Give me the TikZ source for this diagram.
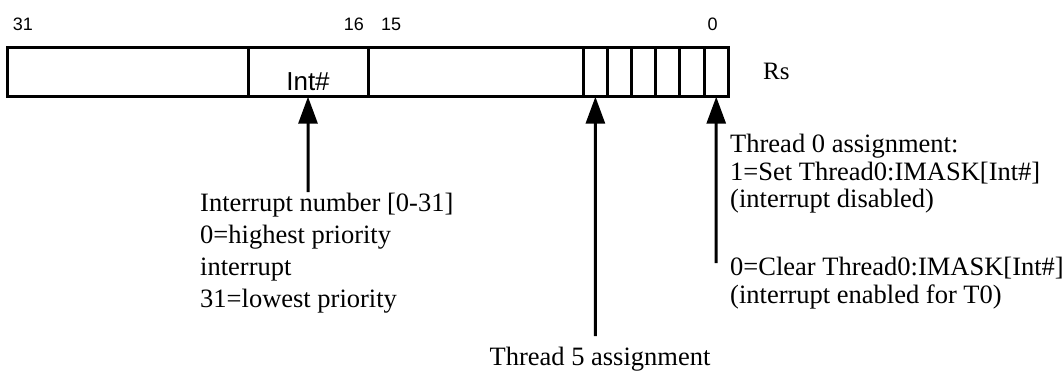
\documentclass[tikz,border=0pt]{standalone}
\usepackage{fontspec}
\setmainfont{Liberation Serif}
\setsansfont{Liberation Sans}
\usetikzlibrary{arrows.meta,positioning}
\tikzset{
    field/.style={draw, line width=3pt, minimum height=49.4pt, inner sep=0pt, outer sep=0pt, anchor=west, font=\sffamily\fontsize{26}{30}\selectfont},
    bitno/.style={inner sep=0pt, font=\sffamily\fontsize{18}{20}\selectfont},
    note/.style={inner sep=0pt, align=left, anchor=north west},
    pointer/.style={line width=3pt, -{Triangle[length=27pt,width=19pt]}}
}

\begin{document}
\begin{tikzpicture}[x=1pt, y=-1pt]
    \useasboundingbox (0,0) rectangle (1063,373);

    \node[field, minimum width=240.7pt] (upper) at (7.3,72) {};
    \node[field, minimum width=120pt, text height=40pt, text depth=4pt] (intno) at (upper.east) {Int\#};
    \node[field, minimum width=215.3pt] (lower) at (intno.east) {};
    \foreach \b [count=\i from 0] in {5,4,3,2,1,0}
        \node[field, minimum width=24.17pt] (t\b) at (583.3+24.17*\i,72) {};

    \node[bitno, anchor=base west] (b31) at (12.7,30.7) {31};
    \node[bitno, anchor=base east] (b16) at (364,30.7) {16};
    \node[bitno, anchor=base west] (b15) at (381,30.7) {15};
    \node[bitno, anchor=base] (b0) at (712.5,30.7) {0};
    \node[anchor=base west, inner sep=0pt, font=\fontsize{25}{28}\selectfont] (rs) at (763,79) {Rs};

    \coordinate (intTail) at (308,192);
    \coordinate (t5Tail) at (595.4,336);
    \coordinate (t0Tail) at (716.2,263);
    \draw[pointer] (intTail) -- (intno.south);
    \draw[pointer] (t5Tail) -- (t5.south);
    \draw[pointer] (t0Tail) -- (t0.south);

    \node[note, font=\fontsize{26.5}{32}\selectfont] (intnote) at (200,193) {Interrupt number [0-31]\\0=highest priority\\interrupt\\31=lowest priority};
    \node[note, font=\fontsize{26.5}{27.5}\selectfont] (t0note) at (730,134) {Thread 0 assignment:\\1=Set Thread0:IMASK[Int\#]\\(interrupt disabled)\\[40.5pt]0=Clear Thread0:IMASK[Int\#]\\(interrupt enabled for T0)};
    \node[anchor=base, inner sep=0pt, font=\fontsize{26.5}{28}\selectfont] (t5note) at (600,365) {Thread 5 assignment};
\end{tikzpicture}
\end{document}
